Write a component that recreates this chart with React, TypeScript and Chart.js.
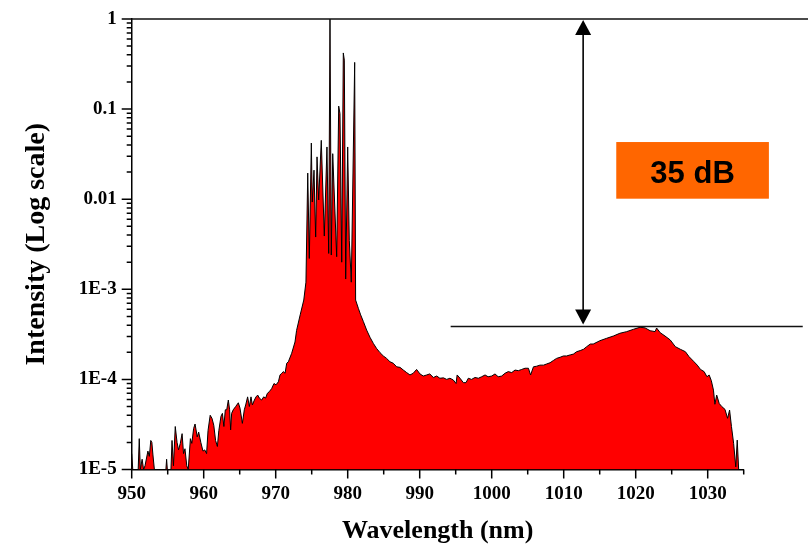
import React, { useEffect, useRef } from 'react';
import { Chart, registerables } from 'chart.js';

Chart.register(...registerables);

// ---- data ----
const wavelengths = [
  950.0, 950.15, 950.9, 951.05, 951.2, 951.45, 951.65, 951.85, 952.25, 952.45,
  952.65, 952.8, 952.95, 953.15, 954.75, 954.85, 954.95, 955.45, 955.6, 955.8,
  956.05, 956.3, 956.5, 956.75, 957.0, 957.2, 957.4, 957.65, 957.85, 958.15,
  958.35, 958.6, 958.8, 959.1, 959.3, 959.6, 959.9, 960.15, 960.4, 960.6,
  960.9, 961.15, 961.4, 961.65, 961.9, 962.1, 962.4, 962.6, 962.8, 963.0,
  963.2, 963.42, 963.6, 963.74, 963.88, 964.1, 964.44, 964.81, 965.04, 965.37,
  965.64, 965.83, 966.1, 966.34, 966.57, 966.76, 967.04, 967.27, 967.5, 967.73,
  968.05, 968.33, 968.6, 968.84, 969.1, 969.44, 969.76, 970.04, 970.37, 970.6,
  970.83, 971.06, 971.3, 971.53, 971.76, 972.22, 972.68, 972.9, 973.4, 973.9,
  974.2, 974.45, 974.67, 974.95, 975.08, 975.32, 975.55, 975.74, 975.97, 976.33,
  976.75, 977.12, 977.36, 977.54, 977.72, 977.92, 978.47, 978.75, 978.93, 979.17,
  979.39, 979.53, 979.72, 980.0, 980.22, 980.5, 980.97, 981.1, 981.48, 981.8,
  982.17, 982.63, 983.1, 983.56, 984.0, 984.49, 984.95, 985.4, 985.87, 986.33,
  986.8, 987.26, 987.73, 988.19, 988.65, 989.1, 989.57, 990.04, 990.5, 990.97,
  991.4, 991.9, 992.36, 992.8, 993.3, 993.75, 994.2, 994.67, 995.05, 995.2,
  995.6, 996.06, 996.43, 996.75, 997.2, 997.68, 998.15, 998.6, 999.08, 999.5,
  1000.0, 1000.46, 1000.9, 1001.39, 1001.85, 1002.3, 1002.78, 1003.24, 1003.7, 1004.17,
  1004.63, 1005.1, 1005.4, 1005.8, 1006.24, 1006.7, 1007.2, 1007.6, 1008.1, 1008.56,
  1009.0, 1009.5, 1009.96, 1010.4, 1010.9, 1011.35, 1011.8, 1012.3, 1012.75, 1013.2,
  1013.7, 1014.1, 1015.04, 1015.97, 1016.9, 1017.8, 1018.75, 1019.7, 1020.6, 1021.3,
  1022.0, 1022.7, 1022.9, 1023.4, 1024.07, 1024.8, 1025.5, 1026.2, 1026.9, 1027.4,
  1028.1, 1028.55, 1029.0, 1029.5, 1029.9, 1030.2, 1030.5, 1030.8, 1031.0, 1031.25,
  1031.6, 1031.95, 1032.4, 1032.76, 1033.04, 1033.3, 1033.6, 1033.9, 1034.1, 1034.3,
  1035.0,
];

const intensities = [
  1.5e-5, 1e-5, 1e-5, 2.2e-5, 1e-5, 1.3e-5, 1e-5, 1.1e-5, 1.6e-5, 1.4e-5,
  2.1e-5, 2.0e-5, 1.45e-5, 1e-5, 1e-5, 1.3e-5, 1e-5, 1e-5, 2.1e-5, 1.1e-5,
  3.0e-5, 2.0e-5, 1.65e-5, 1.95e-5, 2.5e-5, 1.5e-5, 1.7e-5, 1.1e-5, 1e-5, 2.2e-5,
  1.95e-5, 2.85e-5, 3.2e-5, 2.3e-5, 2.6e-5, 2.0e-5, 1.6e-5, 1.65e-5, 1.5e-5, 2.7e-5,
  4.0e-5, 3.7e-5, 3.1e-5, 2.1e-5, 1.8e-5, 2.7e-5, 3.9e-5, 4.2e-5, 3.0e-5, 4.6e-5,
  4.6e-5, 5.9e-5, 4.6e-5, 2.75e-5, 4.2e-5, 4.6e-5, 5.0e-5, 5.5e-5, 4.8e-5, 3.25e-5,
  4.6e-5, 5.2e-5, 6.4e-5, 5.0e-5, 6.4e-5, 5.2e-5, 5.9e-5, 6.4e-5, 6.7e-5, 6.2e-5,
  5.9e-5, 6.4e-5, 6.2e-5, 7.0e-5, 7.3e-5, 7.9e-5, 9.0e-5, 8.7e-5, 9.4e-5, 1.12e-4,
  1.17e-4, 1.22e-4, 1.17e-4, 1.51e-4, 1.57e-4, 1.95e-4, 2.6e-4, 3.5e-4, 5.2e-4, 7.6e-4,
  1.2e-3, 1.95e-2, 2.2e-3, 4.2e-2, 9.3e-3, 2.1e-2, 3.8e-3, 2.95e-2, 9.8e-3, 4.5e-2,
  3.9e-3, 3.8e-2, 2.5e-3, 1.0, 2.4e-3, 3.2e-2, 2.3e-3, 0.108, 8.9e-2, 2.0e-3,
  0.42, 0.35, 1.3e-3, 3.8e-2, 3.5e-3, 1.2e-3, 0.33, 7.6e-4, 6.15e-4, 5.2e-4,
  4.4e-4, 3.53e-4, 2.93e-4, 2.51e-4, 2.21e-4, 1.98e-4, 1.82e-4, 1.71e-4, 1.57e-4, 1.51e-4,
  1.38e-4, 1.36e-4, 1.27e-4, 1.19e-4, 1.12e-4, 1.17e-4, 1.29e-4, 1.15e-4, 1.09e-4, 1.12e-4,
  1.15e-4, 1.05e-4, 1.09e-4, 1.03e-4, 1.04e-4, 1.0e-4, 1.03e-4, 9.85e-5, 9.0e-5, 1.12e-4,
  1.03e-4, 9.2e-5, 9.2e-5, 1.03e-4, 1.0e-4, 1.05e-4, 1.03e-4, 1.07e-4, 1.12e-4, 1.07e-4,
  1.09e-4, 1.15e-4, 1.07e-4, 1.09e-4, 1.17e-4, 1.22e-4, 1.19e-4, 1.27e-4, 1.25e-4, 1.29e-4,
  1.33e-4, 1.33e-4, 1.12e-4, 1.38e-4, 1.4e-4, 1.44e-4, 1.44e-4, 1.48e-4, 1.53e-4, 1.62e-4,
  1.71e-4, 1.76e-4, 1.82e-4, 1.82e-4, 1.87e-4, 1.91e-4, 2.03e-4, 2.09e-4, 2.16e-4, 2.31e-4,
  2.47e-4, 2.47e-4, 2.69e-4, 2.86e-4, 3.03e-4, 3.25e-4, 3.39e-4, 3.6e-4, 3.79e-4, 3.73e-4,
  3.47e-4, 3.39e-4, 3.72e-4, 3.3e-4, 3.03e-4, 2.74e-4, 2.31e-4, 2.16e-4, 2.03e-4, 1.79e-4,
  1.57e-4, 1.44e-4, 1.29e-4, 1.22e-4, 1.07e-4, 1.12e-4, 9.7e-5, 7.6e-5, 5.3e-5, 6.7e-5,
  5.4e-5, 5.0e-5, 4.65e-5, 3.7e-5, 4.57e-5, 3.0e-5, 1.95e-5, 1.07e-5, 2.12e-5, 1e-5,
  1e-5,
];

const xMajorTicks = [950, 960, 970, 980, 990, 1000, 1010, 1020, 1030];
const xMinorTicks = [955, 965, 975, 985, 995, 1005, 1015, 1025, 1035];
const yTickValues = [1e-5, 1e-4, 1e-3, 1e-2, 1e-1, 1];
const yTickLabels = ['1E-5', '1E-4', '1E-3', '0.01', '0.1', '1'];
const yMinorMultipliers = [2, 3, 4, 5, 6, 7, 8, 9];

const xTitle = 'Wavelength (nm)';
const yTitle = 'Intensity (Log scale)';

// annotation, in data coordinates
const refLevel = 1;
const aseLevel = 3.86e-4;
const upperLineNm = [950, 1044];
const lowerLineNm = [994.3, 1043.2];
const arrowNm = 1012.7;
const boxNm = [1017.3, 1038.5];
const boxLevels = [0.0431, 0.01013];
const dbLabel = '35 dB';

// ---- layout constants ----
const W = 808;
const H = 547;
const Y_AXIS_WIDTH = 131.7;
const X_AXIS_HEIGHT = 77.5;
const SERIF = "'Liberation Serif', 'Times New Roman', serif";
const SANS = "'Liberation Sans', Arial, sans-serif";

const decorPlugin = {
  id: 'decor',
  afterDraw(chart: any) {
    const ctx = chart.ctx;
    const xs = chart.scales.x;
    const ys = chart.scales.y;
    const area = chart.chartArea;
    ctx.save();
    ctx.strokeStyle = '#000';
    ctx.fillStyle = '#000';

    // tick marks
    ctx.lineWidth = 1.5;
    ctx.beginPath();
    xMajorTicks.forEach((v) => {
      const p = xs.getPixelForValue(v);
      ctx.moveTo(p, area.bottom);
      ctx.lineTo(p, area.bottom + 9);
    });
    xMinorTicks.forEach((v) => {
      const p = xs.getPixelForValue(v);
      ctx.moveTo(p, area.bottom);
      ctx.lineTo(p, area.bottom + 5);
    });
    yTickValues.forEach((v, i) => {
      const p = ys.getPixelForValue(v);
      ctx.moveTo(area.left, p);
      ctx.lineTo(area.left - 10, p);
      if (i < yTickValues.length - 1) {
        yMinorMultipliers.forEach((m) => {
          const q = ys.getPixelForValue(v * m);
          ctx.moveTo(area.left, q);
          ctx.lineTo(area.left - 5, q);
        });
      }
    });
    ctx.stroke();

    // reference lines
    const yTop = ys.getPixelForValue(refLevel);
    const yBot = ys.getPixelForValue(aseLevel);
    ctx.lineWidth = 1.4;
    ctx.strokeStyle = '#111';
    ctx.beginPath();
    ctx.moveTo(xs.getPixelForValue(upperLineNm[0]), yTop);
    ctx.lineTo(xs.getPixelForValue(upperLineNm[1]), yTop);
    ctx.moveTo(xs.getPixelForValue(lowerLineNm[0]), yBot);
    ctx.lineTo(xs.getPixelForValue(lowerLineNm[1]), yBot);
    ctx.stroke();

    // double arrow
    const ax = xs.getPixelForValue(arrowNm);
    ctx.strokeStyle = '#000';
    ctx.lineWidth = 1.6;
    ctx.beginPath();
    ctx.moveTo(ax, yTop + 12);
    ctx.lineTo(ax, yBot - 12);
    ctx.stroke();
    ctx.beginPath();
    ctx.moveTo(ax, yTop + 1);
    ctx.lineTo(ax - 8, yTop + 16);
    ctx.lineTo(ax + 8, yTop + 16);
    ctx.closePath();
    ctx.fill();
    ctx.beginPath();
    ctx.moveTo(ax, yBot - 2);
    ctx.lineTo(ax - 8, yBot - 17);
    ctx.lineTo(ax + 8, yBot - 17);
    ctx.closePath();
    ctx.fill();

    // label box
    const bx1 = xs.getPixelForValue(boxNm[0]);
    const bx2 = xs.getPixelForValue(boxNm[1]);
    const by1 = ys.getPixelForValue(boxLevels[0]);
    const by2 = ys.getPixelForValue(boxLevels[1]);
    ctx.fillStyle = '#FF6600';
    ctx.fillRect(bx1, by1, bx2 - bx1, by2 - by1);
    ctx.fillStyle = '#000';
    ctx.font = `bold 31px ${SANS}`;
    ctx.textAlign = 'center';
    ctx.textBaseline = 'alphabetic';
    ctx.fillText(dbLabel, (bx1 + bx2) / 2, by2 - 16);

    ctx.restore();
  },
};

export default function App() {
  const canvasRef = useRef<HTMLCanvasElement | null>(null);

  useEffect(() => {
    const canvas = canvasRef.current;
    if (!canvas) return;
    const points = wavelengths.map((x, i) => ({ x, y: intensities[i] }));
    const chart = new Chart(canvas, {
      type: 'line',
      data: {
        datasets: [
          {
            data: points,
            borderColor: '#000',
            borderWidth: 1,
            backgroundColor: '#FF0000',
            fill: 'start',
            pointRadius: 0,
            tension: 0,
          },
        ],
      },
      options: {
        animation: false,
        responsive: false,
        devicePixelRatio: 1,
        layout: { padding: { top: 19, right: 64.3, left: 0, bottom: 0 } },
        plugins: {
          legend: { display: false },
          tooltip: { enabled: false },
        },
        scales: {
          x: {
            type: 'linear',
            min: 950,
            max: 1035,
            afterBuildTicks: (s: any) => {
              s.ticks = xMajorTicks.map((v) => ({ value: v }));
            },
            afterFit: (s: any) => {
              s.height = X_AXIS_HEIGHT;
            },
            grid: { display: false, drawTicks: true, tickLength: 10 },
            border: { display: true, color: '#000', width: 1.5 },
            ticks: {
              autoSkip: false,
              maxRotation: 0,
              padding: 3,
              color: '#000',
              font: { family: SERIF, size: 19, weight: 'bold' },
              callback: (v: any) => String(v),
            },
            title: {
              display: true,
              text: xTitle,
              color: '#000',
              padding: 0,
              font: { family: SERIF, size: 26, weight: 'bold' },
            },
          },
          y: {
            type: 'logarithmic',
            min: 1e-5,
            max: 1,
            afterBuildTicks: (s: any) => {
              s.ticks = yTickValues.map((v) => ({ value: v }));
            },
            afterFit: (s: any) => {
              s.width = Y_AXIS_WIDTH;
            },
            grid: { display: false, drawTicks: true, tickLength: 10 },
            border: { display: true, color: '#000', width: 1.5 },
            ticks: {
              autoSkip: false,
              padding: 5,
              color: '#000',
              font: { family: SERIF, size: 19, weight: 'bold' },
              callback: (v: any) => {
                const i = yTickValues.findIndex(
                  (t) => Math.abs(Math.log10(t) - Math.log10(Number(v))) < 1e-6
                );
                return i >= 0 ? yTickLabels[i] : '';
              },
            },
            title: {
              display: true,
              text: yTitle,
              color: '#000',
              padding: { top: 19.7, bottom: 0 },
              font: { family: SERIF, size: 28, weight: 'bold' },
            },
          },
        },
      } as any,
      plugins: [decorPlugin],
    });
    return () => chart.destroy();
  }, []);

  return (
    <div style={{ position: 'absolute', left: 0, top: 0, width: W, height: H, background: '#fff' }}>
      <canvas ref={canvasRef} width={W} height={H} style={{ display: 'block' }} />
    </div>
  );
}
